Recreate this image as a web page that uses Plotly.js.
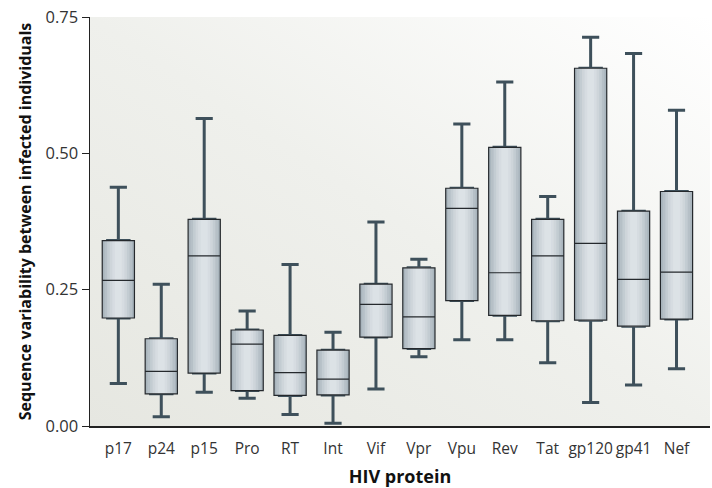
<!DOCTYPE html>
<html>
<head>
<meta charset="utf-8">
<script src="https://cdn.plot.ly/plotly-3.0.1.min.js"></script>
<style>html,body{margin:0;padding:0;background:#fff;}#chart{width:712px;height:488px;}</style>
</head>
<body>
<div id="chart"></div>
<script>
var proteins = ["p17","p24","p15","Pro","RT","Int","Vif","Vpr","Vpu","Rev","Tat","gp120","gp41","Nef"];
var lowerWhisker = [0.078,0.017,0.062,0.051,0.021,0.005,0.068,0.127,0.158,0.158,0.116,0.043,0.075,0.105];
var q1Values     = [0.198,0.059,0.097,0.065,0.056,0.057,0.163,0.142,0.230,0.203,0.193,0.194,0.183,0.196];
var medianValues = [0.267,0.100,0.312,0.150,0.098,0.086,0.223,0.200,0.399,0.281,0.312,0.335,0.269,0.282];
var q3Values     = [0.340,0.160,0.379,0.176,0.166,0.139,0.260,0.290,0.436,0.511,0.379,0.656,0.394,0.430];
var upperWhisker = [0.438,0.260,0.564,0.211,0.296,0.172,0.374,0.306,0.554,0.631,0.421,0.713,0.683,0.579];
var yTicks = [0, 0.25, 0.5, 0.75];
var yTickLabels = ["0.00","0.25","0.50","0.75"];

var traces = [];
// whiskers (thick slate lines), narrow box hidden behind the filled boxes
traces.push({
  type: 'box', x: proteins, q1: q1Values, median: medianValues, q3: q3Values,
  lowerfence: lowerWhisker, upperfence: upperWhisker,
  width: 0.5, whiskerwidth: 0.8, boxpoints: false,
  line: {color: '#3e505b', width: 3}, fillcolor: '#3e505b', hoverinfo: 'skip'
});
// gradient layers
var layers = [
  {w: 0.75, c: '#a9b5bd'},
  {w: 0.64, c: '#b6c0c7'},
  {w: 0.52, c: '#c3ccd2'},
  {w: 0.40, c: '#ced5da'},
  {w: 0.28, c: '#d6dce1'},
  {w: 0.16, c: '#dce2e6'}
];
layers.forEach(function(L){
  traces.push({
    type: 'box', x: proteins, q1: q1Values, median: medianValues, q3: q3Values,
    lowerfence: q1Values, upperfence: q3Values,
    width: L.w, whiskerwidth: 0, boxpoints: false,
    line: {color: L.c, width: 0.01}, fillcolor: L.c, hoverinfo: 'skip'
  });
});
// outline + median
traces.push({
  type: 'box', x: proteins, q1: q1Values, median: medianValues, q3: q3Values,
  lowerfence: q1Values, upperfence: q3Values,
  width: 0.75, whiskerwidth: 0, boxpoints: false,
  line: {color: '#25292d', width: 1.2}, fillcolor: 'rgba(0,0,0,0)'
});

var bgSvg = '<svg xmlns="http://www.w3.org/2000/svg" width="100" height="100" preserveAspectRatio="none">' +
  '<defs><linearGradient id="g" x1="0" y1="1" x2="1" y2="0">' +
  '<stop offset="0" stop-color="#e6e7e1"/><stop offset="0.5" stop-color="#eff0ec"/><stop offset="1" stop-color="#ffffff"/>' +
  '</linearGradient></defs><rect width="100" height="100" fill="url(#g)"/></svg>';

var layout = {
  width: 712, height: 488,
  margin: {l: 90, r: 2, t: 17, b: 62},
  paper_bgcolor: '#ffffff', plot_bgcolor: 'rgba(0,0,0,0)',
  showlegend: false, boxmode: 'overlay',
  font: {family: 'Open Sans, sans-serif', color: '#333333'},
  images: [{
    source: 'data:image/svg+xml;charset=utf-8,' + encodeURIComponent(bgSvg),
    xref: 'paper', yref: 'paper', x: 0, y: 1, sizex: 1, sizey: 1,
    sizing: 'stretch', xanchor: 'left', yanchor: 'top', layer: 'below'
  }],
  xaxis: {
    type: 'category', range: [-0.66, 13.78], tickangle: 0,
    showgrid: false, zeroline: false, showline: true, linecolor: '#222', linewidth: 1.5,
    ticks: '', ticklabelstandoff: 8, tickfont: {size: 15.5, color: '#333'},
    title: {text: 'HIV protein', font: {size: 18, color: '#111', weight: 'bold'}, standoff: 14}
  },
  yaxis: {
    range: [0, 0.75], tickvals: yTicks, ticktext: yTickLabels,
    showgrid: false, zeroline: false, showline: true, linecolor: '#222', linewidth: 1.5,
    ticks: 'outside', ticklen: 7, tickcolor: '#222', tickwidth: 1,
    tickfont: {size: 16.5, color: '#333'},
    title: {text: 'Sequence variability between infected individuals', font: {size: 16, color: '#111', weight: 'bold'}, standoff: 10}
  }
};
Plotly.newPlot('chart', traces, layout, {displayModeBar: false, staticPlot: true});
</script>
</body>
</html>
